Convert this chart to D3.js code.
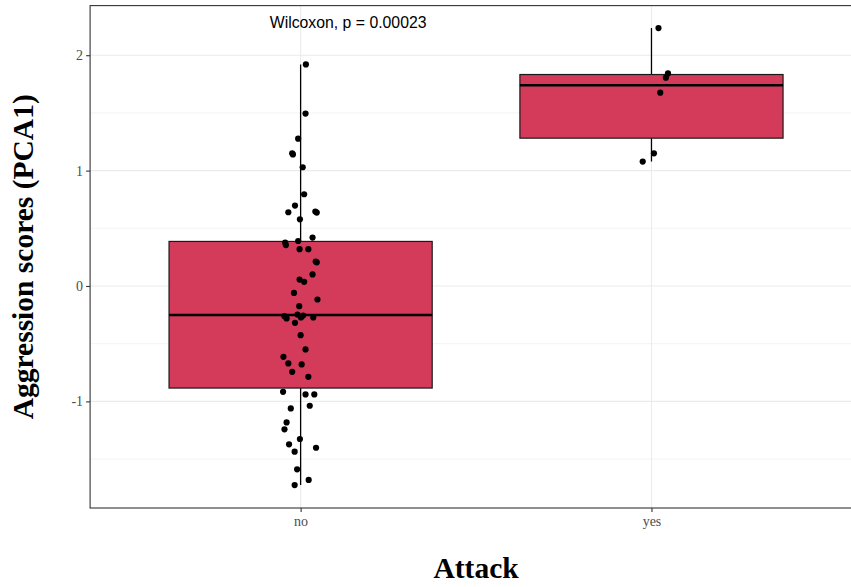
<!DOCTYPE html>
<html>
<head>
<meta charset="utf-8">
<script src="https://cdn.jsdelivr.net/npm/d3@7"></script>
<style>
  html, body { margin: 0; padding: 0; background: #ffffff; }
  svg { display: block; }
</style>
</head>
<body>
<svg id="chart" width="851" height="587"></svg>
<script>
// Groups on the x axis
const categories = ["no", "yes"];

// Aggression scores (PCA1) per individual, by attack status
const scoresNo = [
  1.920, 1.494, 1.277, 1.150, 1.140, 1.029, 0.795, 0.697, 0.645, 0.639,
  0.636, 0.578, 0.420, 0.390, 0.375, 0.355, 0.319, 0.319, 0.212, 0.205,
  0.100, 0.056, 0.036, -0.060, -0.117, -0.175, -0.248, -0.256, -0.262, -0.273,
  -0.273, -0.281, -0.319, -0.426, -0.550, -0.614, -0.671, -0.680, -0.744, -0.787,
  -0.917, -0.940, -0.940, -1.038, -1.061, -1.182, -1.242, -1.326, -1.372, -1.402,
  -1.436, -1.589, -1.681, -1.725
];
const scoresYes = [2.235, 1.842, 1.805, 1.675, 1.150, 1.078];

// Horizontal jitter of each point, as a fraction of the category spacing
const jitterNo = [
  0.015, 0.014, -0.007, -0.024, -0.022, 0.006, 0.010, -0.016, 0.042, -0.035,
  0.046, -0.002, 0.034, -0.007, -0.044, -0.042, -0.003, 0.022, 0.043, 0.046,
  0.034, -0.003, 0.010, -0.019, 0.048, -0.004, -0.009, 0.007, -0.046, 0.001,
  0.036, -0.040, -0.016, 0.000, 0.014, -0.049, -0.035, 0.003, -0.024, 0.022,
  -0.050, 0.014, 0.039, 0.026, -0.028, -0.040, -0.046, -0.002, -0.033, 0.044,
  -0.017, -0.010, 0.023, -0.017
];
const jitterYes = [0.020, 0.047, 0.041, 0.025, 0.007, -0.025];

// Y axis ticks and test annotation
const yTicks = [-1, 0, 1, 2];
const yMinorTicks = [-1.5, -0.5, 0.5, 1.5];
const testLabel = "Wilcoxon, p = 0.00023";
const testLabelPos = { category: 0.912, value: 2.284 };

const xTitle = "Attack";
const yTitle = "Aggression scores (PCA1)";

// ---- layout ----
const W = 851, H = 587;
const panel = { left: 90.1, right: 862, top: 5.6, bottom: 508 };
const fill = "#D43A59";
const serif = "Liberation Serif, Times New Roman, serif";

const svg = d3.select("#chart");

const x = d3.scalePoint()
  .domain(categories)
  .range([panel.left, panel.right])
  .padding(0.6);
const step = x.step();

const y = d3.scaleLinear()
  .domain([-1.924, 2.430])
  .range([panel.bottom, panel.top]);

const groups = [
  { key: "no", values: scoresNo, jitter: jitterNo },
  { key: "yes", values: scoresYes, jitter: jitterYes }
];

// Tukey box statistics (same quantile rule as R's default)
groups.forEach(g => {
  const s = g.values.slice().sort(d3.ascending);
  g.q1 = d3.quantileSorted(s, 0.25);
  g.med = d3.quantileSorted(s, 0.5);
  g.q3 = d3.quantileSorted(s, 0.75);
  const iqr = g.q3 - g.q1;
  g.lo = d3.min(s.filter(v => v >= g.q1 - 1.5 * iqr));
  g.hi = d3.max(s.filter(v => v <= g.q3 + 1.5 * iqr));
});

// clip for everything drawn inside the panel
svg.append("defs").append("clipPath").attr("id", "panel-clip")
  .append("rect")
  .attr("x", panel.left).attr("y", panel.top)
  .attr("width", panel.right - panel.left).attr("height", panel.bottom - panel.top);

const plot = svg.append("g").attr("clip-path", "url(#panel-clip)");

// panel background
plot.append("rect")
  .attr("x", panel.left).attr("y", panel.top)
  .attr("width", panel.right - panel.left).attr("height", panel.bottom - panel.top)
  .attr("fill", "#ffffff");

// grid lines
plot.selectAll(".minor").data(yMinorTicks).join("line")
  .attr("x1", panel.left).attr("x2", panel.right)
  .attr("y1", d => y(d)).attr("y2", d => y(d))
  .attr("stroke", "#EBEBEB").attr("stroke-width", 0.6);

plot.selectAll(".major-y").data(yTicks).join("line")
  .attr("x1", panel.left).attr("x2", panel.right)
  .attr("y1", d => y(d)).attr("y2", d => y(d))
  .attr("stroke", "#EBEBEB").attr("stroke-width", 1.1);

plot.selectAll(".major-x").data(categories).join("line")
  .attr("x1", d => x(d)).attr("x2", d => x(d))
  .attr("y1", panel.top).attr("y2", panel.bottom)
  .attr("stroke", "#EBEBEB").attr("stroke-width", 1.1);

// boxplots
const boxes = plot.selectAll(".box").data(groups).join("g");

boxes.append("line")
  .attr("x1", d => x(d.key)).attr("x2", d => x(d.key))
  .attr("y1", d => y(d.hi)).attr("y2", d => y(d.q3))
  .attr("stroke", "#000").attr("stroke-width", 1.3);

boxes.append("line")
  .attr("x1", d => x(d.key)).attr("x2", d => x(d.key))
  .attr("y1", d => y(d.q1)).attr("y2", d => y(d.lo))
  .attr("stroke", "#000").attr("stroke-width", 1.3);

boxes.append("rect")
  .attr("x", d => x(d.key) - 0.375 * step)
  .attr("width", 0.75 * step)
  .attr("y", d => y(d.q3))
  .attr("height", d => y(d.q1) - y(d.q3))
  .attr("fill", fill)
  .attr("stroke", "#1a1a1a").attr("stroke-width", 1.2);

boxes.append("line")
  .attr("x1", d => x(d.key) - 0.375 * step).attr("x2", d => x(d.key) + 0.375 * step)
  .attr("y1", d => y(d.med)).attr("y2", d => y(d.med))
  .attr("stroke", "#000").attr("stroke-width", 2.6);

// jittered points
const pts = [];
groups.forEach(g => g.values.forEach((v, i) => pts.push({ key: g.key, v, j: g.jitter[i] })));

plot.selectAll(".pt").data(pts).join("circle")
  .attr("cx", d => x(d.key) + d.j * step)
  .attr("cy", d => y(d.v))
  .attr("r", 3.1)
  .attr("fill", "#000");

// test annotation
svg.append("text")
  .attr("x", x("no") + (testLabelPos.category - 1) * step)
  .attr("y", y(testLabelPos.value))
  .attr("dy", "0.35em")
  .attr("font-family", "Liberation Sans, Arial, sans-serif")
  .attr("font-size", 15.8)
  .attr("fill", "#000")
  .text(testLabel);

// panel border
svg.append("rect")
  .attr("x", panel.left).attr("y", panel.top)
  .attr("width", panel.right - panel.left).attr("height", panel.bottom - panel.top)
  .attr("fill", "none").attr("stroke", "#333333").attr("stroke-width", 1.1);

// axes
const yAxis = svg.append("g")
  .attr("transform", `translate(${panel.left},0)`)
  .call(d3.axisLeft(y).tickValues(yTicks).tickSize(4).tickPadding(3).tickFormat(d3.format("d")));

const xAxis = svg.append("g")
  .attr("transform", `translate(0,${panel.bottom})`)
  .call(d3.axisBottom(x).tickSize(4).tickPadding(4));

[yAxis, xAxis].forEach(a => {
  a.select(".domain").remove();
  a.selectAll(".tick line").attr("stroke", "#333333").attr("stroke-width", 1.1);
  a.selectAll(".tick text")
    .attr("font-family", serif)
    .attr("font-size", 14)
    .attr("fill", "#4D4D4D");
});
yAxis.selectAll(".tick text").text(d => d < 0 ? "-" + Math.abs(d) : d);

// axis titles
svg.append("text")
  .attr("x", (panel.left + panel.right) / 2)
  .attr("y", 578)
  .attr("text-anchor", "middle")
  .attr("font-family", serif)
  .attr("font-weight", "bold")
  .attr("font-size", 29.5)
  .attr("fill", "#000")
  .text(xTitle);

svg.append("text")
  .attr("transform", `translate(33,${(panel.top + panel.bottom) / 2}) rotate(-90)`)
  .attr("text-anchor", "middle")
  .attr("font-family", serif)
  .attr("font-weight", "bold")
  .attr("font-size", 29.5)
  .attr("fill", "#000")
  .text(yTitle);
</script>
</body>
</html>
